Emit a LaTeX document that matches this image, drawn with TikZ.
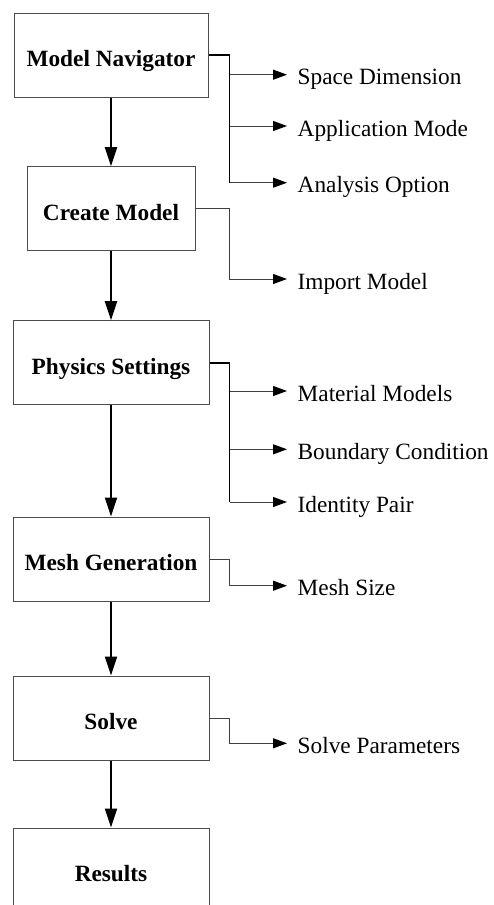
\documentclass[tikz,border=0pt]{standalone}
\usepackage{fontspec}
\setmainfont{Liberation Serif}
\usetikzlibrary{arrows.meta}
\begin{document}
\begin{tikzpicture}[x=1pt,y=-1pt,
  box/.style={draw=black!70, line width=1pt, minimum width=196pt, minimum height=84pt, inner sep=0pt,
    font=\fontsize{23.3}{28}\selectfont\bfseries, text height=27pt, text depth=3.6pt},
  item/.style={anchor=west, inner xsep=10.5pt, inner ysep=0pt,
    font=\fontsize{23.3}{28}\selectfont, text height=20pt, text depth=0pt},
  flow/.style={line width=2pt, -{Triangle[length=19pt,width=12pt]}},
  trunk/.style={line width=1.8pt},
  sub/.style={draw=black!75, line width=1pt, -{Triangle[length=14pt,width=10pt,color=black]}}]
\useasboundingbox (0,0) rectangle (493,905);
\clip (0,0) rectangle (493,905);
\fill[white] (0,0) rectangle (493,905);

% main boxes
\node[box, minimum width=194pt] (nav) at (111,55) {Model Navigator};
\node[box, minimum width=168pt] (cm) at (111,208.7) {Create Model};
\node[box] (ps) at (111,362.7) {Physics Settings};
\node[box] (mg) at (111,559) {Mesh Generation};
\node[box] (sv) at (111,718) {Solve};
\node[box] (rs) at (111,870) {Results};

% items
\node[item] (sd) at (287,74.7) {Space Dimension};
\node[item] (am) at (287,126) {Application Mode};
\node[item] (ao) at (287,182.7) {Analysis Option};
\node[item] (im) at (287,279) {Import Model};
\node[item] (mm) at (287,391) {Material Models};
\node[item] (bc) at (287,449.3) {Boundary Condition};
\node[item] (ip) at (287,502) {Identity Pair};
\node[item] (ms) at (287,585.7) {Mesh Size};
\node[item] (sp) at (287,743.3) {Solve Parameters};

% main flow
\draw[flow] (nav) -- (cm);
\draw[flow] (cm) -- (ps);
\draw[flow] (ps) -- (mg);
\draw[flow] (mg) -- (sv);
\draw[flow] (sv) -- (rs);

% Model Navigator branch
\coordinate (k1) at (229.5,182.7);
\draw[sub] (k1 |- sd.west) -- (sd.west);
\draw[sub] (k1 |- am.west) -- (am.west);
\draw[sub] (k1) -- (ao.west);
\draw[trunk] (nav.east) -| (k1);

% Create Model branch
\draw[sub] (cm.east) -| (229.5,279) -- (im.west);

% Physics Settings branch
\coordinate (k3) at (229.5,502);
\draw[sub] (k3 |- mm.west) -- (mm.west);
\draw[sub] (k3 |- bc.west) -- (bc.west);
\draw[sub] (k3) -- (ip.west);
\draw[trunk] (ps.east) -| (k3);

% Mesh Generation branch
\draw[sub] (mg.east) -| (229.5,585.7) -- (ms.west);

% Solve branch
\draw[sub] (sv.east) -| (229.5,743.3) -- (sp.west);
\end{tikzpicture}
\end{document}
